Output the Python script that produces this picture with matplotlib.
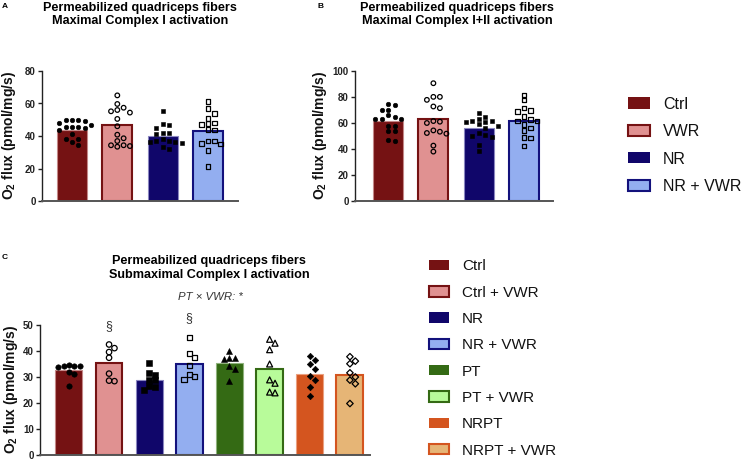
import numpy as np
import matplotlib
matplotlib.use("Agg")
import matplotlib.pyplot as plt
from matplotlib.patches import Rectangle

plt.rcParams['font.family'] = ['Liberation Sans', 'DejaVu Sans']
plt.rcParams['mathtext.fontset'] = 'custom'
plt.rcParams['mathtext.rm'] = 'Liberation Sans:bold'
plt.rcParams['mathtext.bf'] = 'Liberation Sans:bold'
plt.rcParams['mathtext.default'] = 'rm'

# ---- data ----
ab_labels = ["Ctrl", "VWR", "NR", "NR + VWR"]

a_means = [43.6, 46.5, 40.2, 43.3]
a_ctrl = [49.6, 49.6, 49.6, 49.0, 47.8, 45.7, 45.7, 45.7, 47.0, 44.7, 43.7, 41.2, 38.2, 38.2, 36.5, 34.3]
a_vwr = [65.0, 59.7, 56.0, 55.2, 57.4, 54.4, 50.5, 46.0, 40.8, 38.6, 36.9, 34.3, 33.4, 33.8, 34.3]
a_nr = [55.4, 47.0, 47.4, 45.1, 42.0, 41.2, 42.0, 36.9, 36.3, 36.9, 35.9, 36.5, 38.0, 31.8, 33.4]
a_nrvwr = [61.1, 57.0, 53.9, 50.9, 48.0, 47.6, 47.0, 43.7, 44.1, 36.9, 35.1, 35.5, 36.9, 31.0, 21.1]

b_means = [61.5, 63.0, 56.1, 61.3]
b_ctrl = [73.5, 74.7, 70.2, 70.2, 63.0, 63.0, 66.3, 63.0, 64.5, 57.4, 57.4, 53.6, 53.6, 46.4, 47.2]
b_vwr = [90.6, 80.1, 77.8, 80.1, 71.4, 72.7, 61.5, 60.0, 61.0, 52.3, 54.3, 51.8, 53.3, 42.6, 38.0]
b_nr = [67.6, 64.5, 61.5, 63.0, 61.5, 61.0, 60.7, 59.2, 57.9, 56.1, 50.0, 50.8, 49.5, 52.3, 43.4, 38.3]
b_nrvwr = [81.6, 77.8, 68.9, 69.4, 71.4, 65.1, 61.5, 62.5, 61.5, 56.1, 58.7, 54.1, 48.7, 48.5, 42.3]

c_labels = ["Ctrl", "Ctrl + VWR", "NR", "NR + VWR", "PT", "PT + VWR", "NRPT", "NRPT + VWR"]
c_means = [32.7, 35.4, 29.0, 35.0, 35.4, 33.1, 31.3, 30.6]
c_ctrl = [34.6, 33.7, 34.4, 34.1, 34.1, 31.8, 31.2, 26.7]
c_ctrlvwr = [42.5, 41.1, 39.6, 37.4, 31.3, 28.4, 28.6]
c_nr = [35.2, 31.4, 29.0, 30.8, 28.8, 24.9, 26.5, 26.0]
c_nrvwr = [45.3, 37.5, 39.1, 34.4, 29.0, 30.9, 30.2]
c_pt = [40.1, 37.4, 36.9, 37.4, 34.2, 33.0, 28.4]
c_ptvwr = [44.5, 43.0, 40.5, 35.0, 27.6, 28.9, 23.9, 24.2]
c_nrpt = [37.9, 36.5, 35.1, 33.2, 30.3, 28.9, 26.0, 22.8]
c_nrptvwr = [37.8, 36.1, 35.1, 31.6, 28.8, 30.0, 27.4, 19.8]
c_marked = ["Ctrl + VWR", "NR + VWR"]   # groups with a section sign

# ---- styles ----
STYLE = {
    "Ctrl":       dict(fill="#751213", edge="#c48888", marker="o", hollow=False),
    "Ctrl + VWR": dict(fill="#e09191", edge="#751213", marker="o", hollow=True),
    "NR":         dict(fill="#10066a", edge="#8a86c0", marker="s", hollow=False),
    "NR + VWR":   dict(fill="#93aef0", edge="#13117c", marker="s", hollow=True),
    "PT":         dict(fill="#346a14", edge="#8fb27c", marker="^", hollow=False),
    "PT + VWR":   dict(fill="#b8fb9a", edge="#346a14", marker="^", hollow=True),
    "NRPT":       dict(fill="#d4551f", edge="#eaa080", marker="D", hollow=False),
    "NRPT + VWR": dict(fill="#e6b576", edge="#d4551f", marker="D", hollow=True),
}
STYLE["VWR"] = STYLE["Ctrl + VWR"]

W, H = 748, 461
fig = plt.figure(figsize=(W / 100, H / 100), dpi=100)


def fx(x):
    return x / W


def fy(y):
    return 1 - y / H


def make_axes(left, top, right, bottom):
    return fig.add_axes([fx(left), fy(bottom), (right - left) / W, (bottom - top) / H])


def swarm(ax, xc, vals, d, tol):
    # simple beeswarm in pixel space, through the axes transform
    pts = ax.transData.transform(np.column_stack([np.full(len(vals), xc), vals]))
    order = np.argsort(-np.asarray(vals))
    cands = [0.0]
    for k in range(1, 8):
        cands += [k * d, -k * d]
    placed = {}
    for i in order:
        px, py = pts[i]
        for c in cands:
            ok = all((px + c - qx) ** 2 + (py - qy) ** 2 >= (tol * d) ** 2
                     for qx, qy in placed.values())
            if ok:
                break
        placed[i] = (px + c, py)
    out = ax.transData.inverted().transform([placed[i] for i in range(len(vals))])
    return out[:, 0]


def draw_panel(ax, labels, means, points, ylim, yticks, xlim, width, msize, d, tol):
    ax.set_xlim(*xlim)
    ax.set_ylim(*ylim)
    for i, lab in enumerate(labels):
        st = STYLE[lab]
        ax.bar(i, means[i], width, color=st["fill"], edgecolor=st["edge"],
               linewidth=1.5 if st["hollow"] else 0.8, zorder=1)
    for i, lab in enumerate(labels):
        st = STYLE[lab]
        vals = points[i]
        xs = swarm(ax, i, vals, d, tol)
        ms = msize * (0.85 if st["marker"] == "D" else (1.1 if st["marker"] == "^" else 1.0))
        ax.scatter(xs, vals, s=ms ** 2, marker=st["marker"],
                   facecolors="none" if st["hollow"] else "black",
                   edgecolors="black", linewidths=0.9 if st["hollow"] else 0.4,
                   zorder=3, clip_on=False)
    ax.set_yticks(yticks)
    ax.set_xticks([])
    for s in ["top", "right"]:
        ax.spines[s].set_visible(False)
    ax.spines["left"].set_color("#222222")
    ax.spines["left"].set_linewidth(1.0)
    ax.spines["bottom"].set_color("#555555")
    ax.spines["bottom"].set_linewidth(1.4)
    ax.tick_params(axis="y", length=3, width=1, color="#222222", pad=1.5,
                   labelsize=7, labelcolor="#222222")
    for t in ax.get_yticklabels():
        t.set_fontweight("bold")


def ylabel(x, y):
    fig.text(fx(x), fy(y), "O$_2$ flux (pmol/mg/s)", rotation=90, ha="center",
             va="center", fontsize=10, fontweight="bold", color="#111111")


def title(x, y1, lines):
    for k, line in enumerate(lines):
        fig.text(fx(x), fy(y1 + 13.4 * k), line, ha="center", va="baseline",
                 fontsize=9.1, fontweight="bold")


def legend(x, y0, step, labels, fs, pw, ph, gap):
    cap = fs * 100 / 72 * 0.716
    for k, lab in enumerate(labels):
        st = STYLE[lab]
        y = y0 + k * step
        rect = Rectangle((fx(x), fy(y + ph / 2)), pw / W, ph / H,
                         transform=fig.transFigure, facecolor=st["fill"],
                         edgecolor=st["edge"] if st["hollow"] else st["fill"],
                         linewidth=1.5 if st["hollow"] else 0.0)
        fig.add_artist(rect)
        fig.text(fx(x + pw + gap), fy(y + cap / 2), lab, fontsize=fs,
                 va="baseline", ha="left", color="#111111")


# ---- panel A ----
axA = make_axes(42, 71, 238, 201)
draw_panel(axA, ab_labels, a_means, [a_ctrl, a_vwr, a_nr, a_nrvwr],
           (0, 80), [0, 20, 40, 60, 80], (-0.66, 3.66), 0.66, 3.3, 6.3, 0.85)
ylabel(9, 136)
title(140, 10.7, ["Permeabilized quadriceps fibers", "Maximal Complex I activation"])
fig.text(fx(2), fy(7.5), "A", fontsize=6, fontweight="bold")

# ---- panel B ----
axB = make_axes(355, 71, 553, 201)
draw_panel(axB, ab_labels, b_means, [b_ctrl, b_vwr, b_nr, b_nrvwr],
           (0, 100), [0, 20, 40, 60, 80, 100], (-0.73, 3.64), 0.66, 3.3, 6.5, 0.75)
ylabel(320, 136)
title(457, 10.7, ["Permeabilized quadriceps fibers", "Maximal Complex I+II activation"])
fig.text(fx(318), fy(8), "B", fontsize=6, fontweight="bold")

legend(628, 103, 27.5, ab_labels, 11.5, 22, 11, 13)

# ---- panel C ----
axC = make_axes(40, 325, 370, 455)
c_points = [c_ctrl, c_ctrlvwr, c_nr, c_nrvwr, c_pt, c_ptvwr, c_nrpt, c_nrptvwr]
draw_panel(axC, c_labels, c_means, c_points,
           (0, 50), [0, 10, 20, 30, 40, 50], (-0.72, 7.5), 0.67, 3.9, 5.4, 0.95)
for i, lab in enumerate(c_labels):
    if lab in c_marked:
        axC.text(i, max(c_points[i]) + 7.2, "§", ha="center", va="center",
                 fontsize=9, color="#333333", clip_on=False)
ylabel(11, 390)
title(209, 264.3, ["Permeabilized quadriceps fibers", "Submaximal Complex I activation"])
fig.text(fx(210), fy(300.5), "PT × VWR: *", ha="center", va="baseline",
         fontsize=8.2, style="italic", color="#333333")
fig.text(fx(2), fy(259), "C", fontsize=6, fontweight="bold")

legend(429, 265, 26.3, c_labels, 11, 20, 10.5, 13)

fig.savefig("out.png", dpi=100)
